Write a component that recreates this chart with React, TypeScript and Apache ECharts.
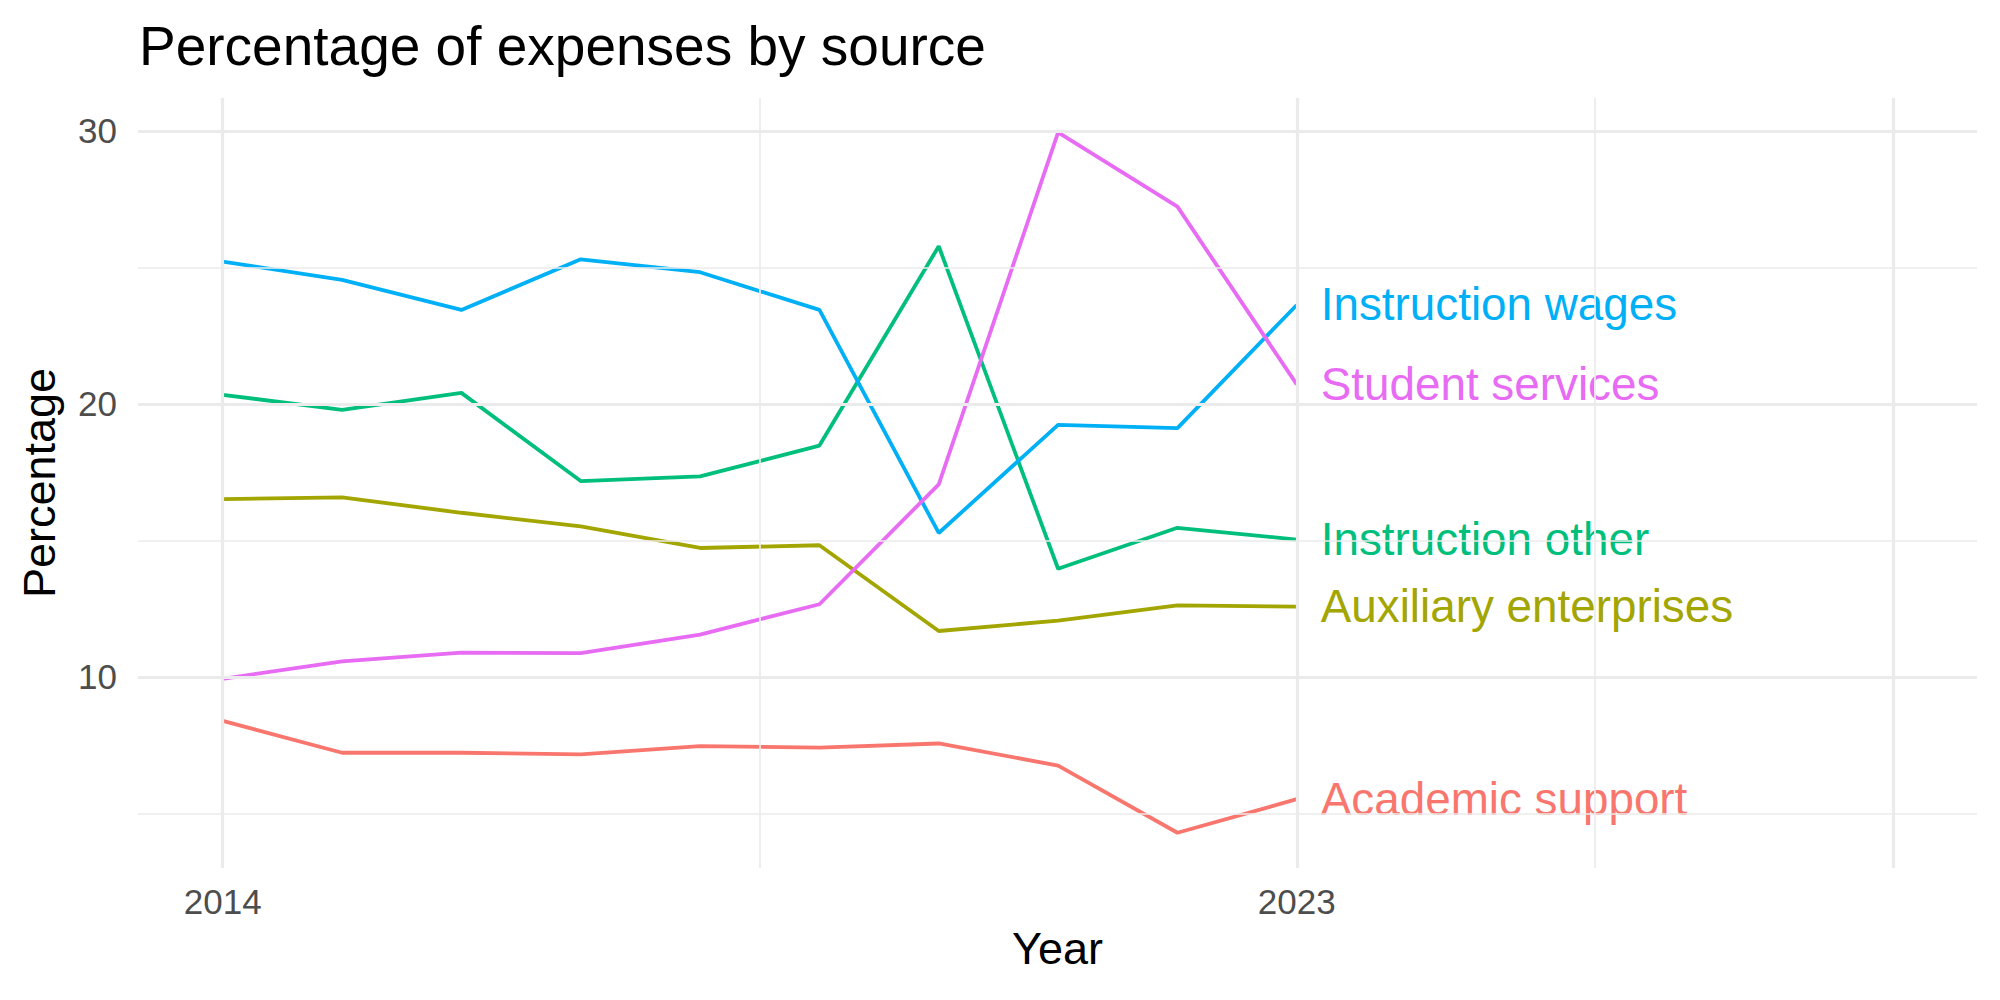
import React, { useEffect, useRef } from "react";
import * as echarts from "echarts";

// ---- data ----
const years = [2014, 2015, 2016, 2017, 2018, 2019, 2020, 2021, 2022, 2023];
const academicSupport = [8.39, 7.22, 7.22, 7.16, 7.46, 7.41, 7.56, 6.75, 4.29, 5.52];
const auxiliaryEnterprises = [16.51, 16.57, 16.01, 15.51, 14.72, 14.82, 11.68, 12.06, 12.62, 12.57];
const instructionOther = [20.33, 19.78, 20.4, 17.17, 17.34, 18.47, 25.77, 13.96, 15.46, 15.03];
const instructionWages = [25.21, 24.54, 23.44, 25.29, 24.82, 23.44, 15.27, 19.23, 19.11, 23.62];
const studentServices = [9.93, 10.57, 10.89, 10.87, 11.55, 12.66, 17.05, 29.94, 27.22, 20.71];

const seriesNames = [
  "Academic support",
  "Auxiliary enterprises",
  "Instruction other",
  "Instruction wages",
  "Student services",
];
const seriesValues = [academicSupport, auxiliaryEnterprises, instructionOther, instructionWages, studentServices];
const seriesColors = ["#F8766D", "#A3A500", "#00BF7D", "#00B0F6", "#E76BF3"];

const xTickLabels = [2014, 2023];
const yTickLabels = [10, 20, 30];
const xMajorGrid = [2014, 2023, 2028];
const xMinorGrid = [2018.5, 2025.5];
const yMajorGrid = [10, 20, 30];
const yMinorGrid = [5, 15, 25];

const FONT = "'Liberation Sans', Arial, Helvetica, sans-serif";

export default function App() {
  const ref = useRef<HTMLDivElement>(null);
  useEffect(() => {
    document.body.style.margin = "0";
    if (!ref.current) return;
    const chart = echarts.init(ref.current, null, { renderer: "svg" });

    const gridLine = (width: number) => ({ color: "#ebebeb", width, type: "solid" });
    const markData: any[] = [
      ...xMinorGrid.map((v) => ({ xAxis: v, lineStyle: gridLine(1.7) })),
      ...yMinorGrid.map((v) => ({ yAxis: v, lineStyle: gridLine(1.7) })),
      ...xMajorGrid.map((v) => ({ xAxis: v, lineStyle: gridLine(3.2) })),
      ...yMajorGrid.map((v) => ({ yAxis: v, lineStyle: gridLine(3.2) })),
    ];

    const dataSeries = seriesNames.map((name, i) => ({
      name,
      type: "line",
      data: years.map((y, j) => [y, seriesValues[i][j]]),
      showSymbol: false,
      symbol: "none",
      z: 3,
      lineStyle: { color: seriesColors[i], width: 3.8 },
      itemStyle: { color: seriesColors[i] },
      emphasis: { disabled: true },
      endLabel: {
        show: true,
        formatter: name,
        color: seriesColors[i],
        fontSize: 45.8,
        fontFamily: FONT,
        distance: 24,
        textBorderWidth: 0,
        textBorderColor: "transparent",
      },
    }));

    chart.setOption({
      animation: false,
      backgroundColor: "#ffffff",
      title: {
        text: "Percentage of expenses by source",
        left: 134,
        top: 13,
        textStyle: { fontSize: 55, fontWeight: "normal", color: "#000000", fontFamily: FONT },
      },
      grid: {
        left: 138,
        right: 23,
        top: 98,
        bottom: 132,
        containLabel: false,
        outerBoundsMode: "none",
      },
      xAxis: {
        type: "value",
        min: 2013.29,
        max: 2028.7,
        name: "Year",
        nameLocation: "middle",
        nameGap: 58,
        nameTextStyle: { fontSize: 45, color: "#000000", fontFamily: FONT },
        axisLine: { show: false },
        axisTick: { show: false },
        splitLine: { show: false },
        axisLabel: {
          customValues: xTickLabels,
          fontSize: 35,
          color: "#4d4d4d",
          fontFamily: FONT,
          margin: 16,
          formatter: (v: number) => String(v),
        },
      },
      yAxis: {
        type: "value",
        min: 3.0,
        max: 31.2,
        name: "Percentage",
        nameLocation: "middle",
        nameRotate: 90,
        nameGap: 76,
        nameTextStyle: { fontSize: 45, color: "#000000", fontFamily: FONT },
        axisLine: { show: false },
        axisTick: { show: false },
        splitLine: { show: false },
        axisLabel: {
          customValues: yTickLabels,
          fontSize: 35,
          color: "#4d4d4d",
          fontFamily: FONT,
          margin: 21,
          formatter: (v: number) => String(v),
        },
      },
      series: [
        {
          name: "grid",
          type: "line",
          data: [],
          z: 1,
          silent: true,
          markLine: {
            silent: true,
            symbol: ["none", "none"],
            label: { show: false },
            emphasis: { disabled: true },
            data: markData,
          },
        },
        ...dataSeries,
      ],
    });
    return () => chart.dispose();
  }, []);
  return <div ref={ref} style={{ width: 2000, height: 1000 }} />;
}
